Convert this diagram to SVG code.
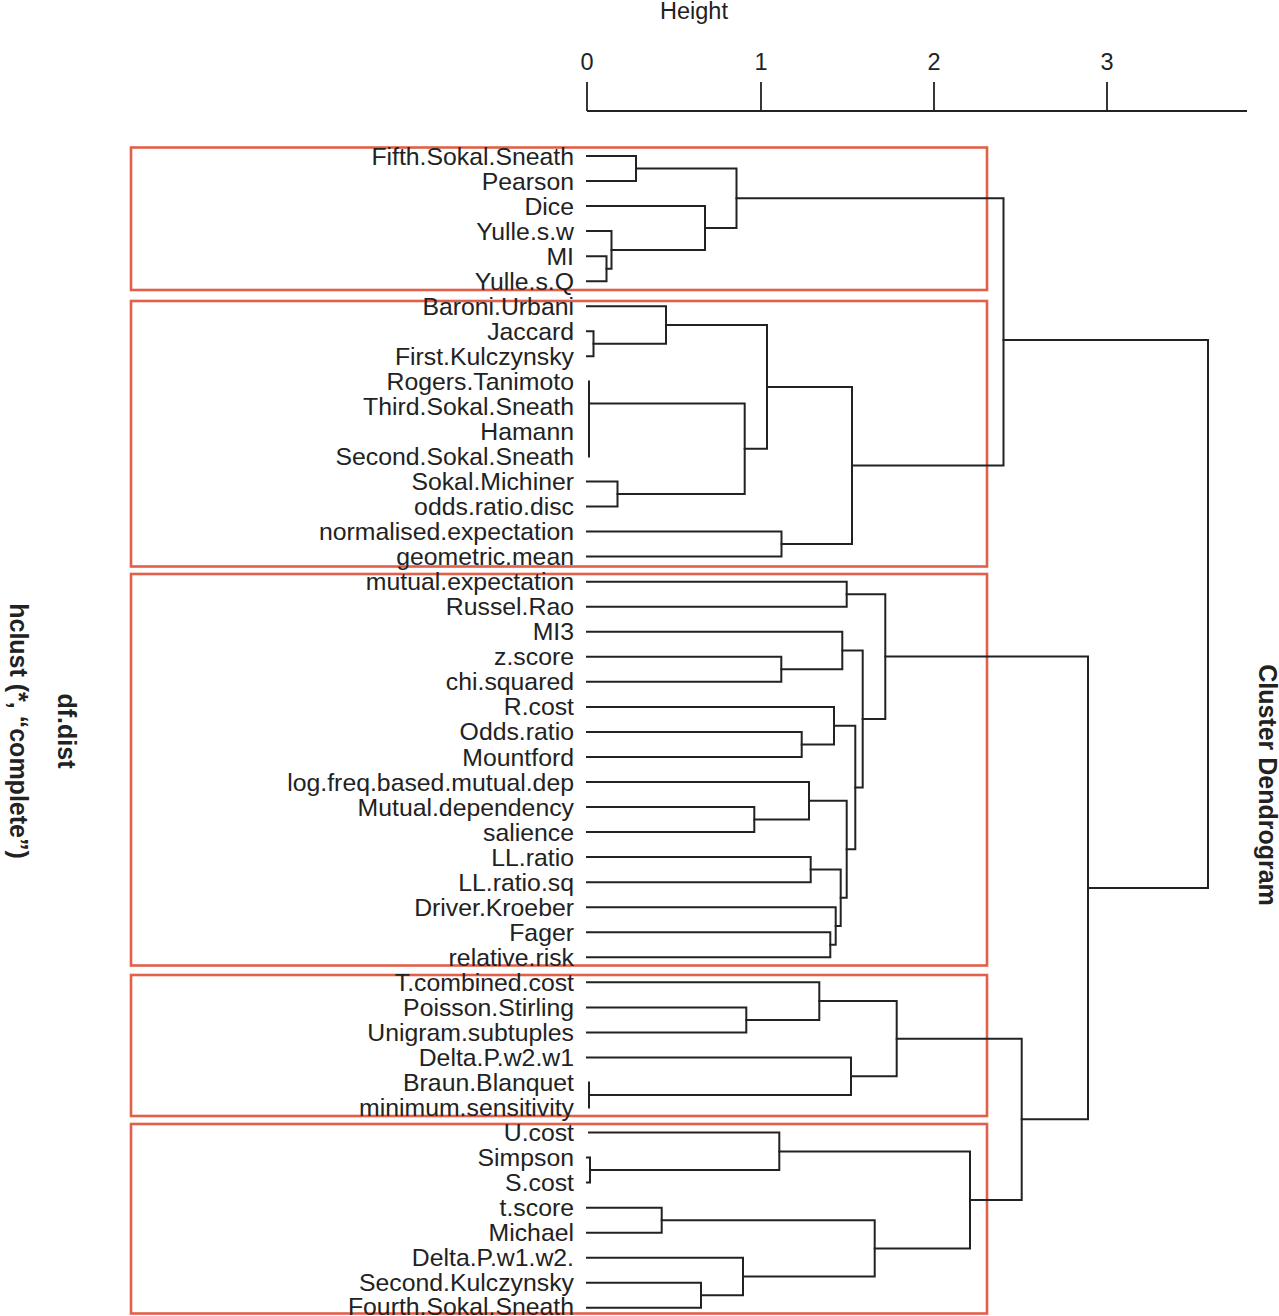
<svg xmlns="http://www.w3.org/2000/svg" width="1279" height="1316" viewBox="0 0 1279 1316">
<style>
.box{fill:none;stroke:#E2604A;stroke-width:2.6}
.ln{fill:none;stroke:#222;stroke-width:2;stroke-linecap:square}
.ax{fill:none;stroke:#222;stroke-width:1.8}
.lab{font-family:"Liberation Sans",Arial,sans-serif;font-size:24.8px;fill:#222;text-anchor:end}
.tick{font-family:"Liberation Sans",Arial,sans-serif;font-size:23.5px;fill:#222;text-anchor:middle}
.ttl{font-family:"Liberation Sans",Arial,sans-serif;font-size:25px;font-weight:bold;fill:#222;text-anchor:middle}
</style>
<rect width="1279" height="1316" fill="#fff"/>
<g id="boxes">
<rect id="box1" class="box" x="131" y="147.5" width="856" height="142.5"/>
<rect id="box2" class="box" x="131" y="301" width="856" height="265.5"/>
<rect id="box3" class="box" x="131" y="574" width="856" height="391.5"/>
<rect id="box4" class="box" x="131" y="975" width="856" height="141"/>
<rect id="box5" class="box" x="131" y="1124" width="856" height="189.5"/>
</g>
<g id="axis">
<path class="ax" d="M587 111 H1247 M587 82 V111 M761 82 V111 M934 82 V111 M1107 82 V111"/>
<text class="tick" x="587" y="69.5">0</text>
<text class="tick" x="761" y="69.5">1</text>
<text class="tick" x="934" y="69.5">2</text>
<text class="tick" x="1107" y="69.5">3</text>
<text class="tick" x="694" y="19">Height</text>
</g>
<g id="connectors" class="ln">
<path d="M587 156 H636 V181 H587"/>
<path d="M587 256.2 H606.5 V281.2 H587"/>
<path d="M587 231.1 H611.5 V268.7 H606.5"/>
<path d="M587 206.1 H705 V249.9 H611.5"/>
<path d="M636 168.5 H736.5 V228 H705"/>
<path d="M587 331.3 H593.5 V356.3 H587"/>
<path d="M587 306.2 H666 V343.8 H593.5"/>
<path d="M589 381.4 V456.5"/>
<path d="M587 481.5 H617.5 V506.6 H587"/>
<path d="M589 403.5 H744.7 V494 H617.5"/>
<path d="M666 325 H767 V448.8 H744.7"/>
<path d="M587 531.6 H781.5 V556.6 H587"/>
<path d="M767 386.9 H852 V544.1 H781.5"/>
<path d="M736.5 198.3 H1003.5 V465.5 H852"/>
<path d="M587 581.7 H846.7 V606.7 H587"/>
<path d="M587 656.8 H781.3 V681.8 H587"/>
<path d="M587 631.8 H842.3 V669.3 H781.3"/>
<path d="M587 731.9 H801.7 V757 H587"/>
<path d="M587 706.9 H834 V744.4 H801.7"/>
<path d="M587 807 H754.3 V832.1 H587"/>
<path d="M587 782 H809 V819.6 H754.3"/>
<path d="M587 857.1 H810.7 V882.2 H587"/>
<path d="M587 932.2 H830.3 V957.3 H587"/>
<path d="M587 907.2 H835.7 V944.8 H830.3"/>
<path d="M810.7 869.6 H840.7 V926 H835.7"/>
<path d="M809 800.8 H846.7 V897.8 H840.7"/>
<path d="M834 725.7 H855.3 V849.3 H846.7"/>
<path d="M842.3 650.5 H862.7 V787.5 H855.3"/>
<path d="M846.7 594.2 H885.3 V719 H862.7"/>
<path d="M587 1007.4 H746.3 V1032.4 H587"/>
<path d="M587 982.3 H819.3 V1019.9 H746.3"/>
<path d="M589 1082.5 V1107.5"/>
<path d="M587 1057.4 H851 V1095 H589"/>
<path d="M819.3 1001.1 H896.7 V1076.2 H851"/>
<path d="M587 1157.6 H590 V1182.6 H587"/>
<path d="M589 1132.6 H779.3 V1170.1 H590"/>
<path d="M587 1207.7 H661.7 V1232.7 H587"/>
<path d="M587 1282.8 H701 V1307.8 H587"/>
<path d="M587 1257.8 H743 V1295.3 H701"/>
<path d="M661.7 1220.2 H874.7 V1276.6 H743"/>
<path d="M779.3 1151.4 H970 V1248.4 H874.7"/>
<path d="M896.7 1038.7 H1021.7 V1199.9 H970"/>
<path d="M885.3 656.6 H1088 V1119.3 H1021.7"/>
<path d="M1003.5 340 H1208 V887.9 H1088"/>
</g>
<g id="labels">
<text class="lab" x="574" y="164.5">Fifth.Sokal.Sneath</text>
<text class="lab" x="574" y="189.5">Pearson</text>
<text class="lab" x="574" y="214.6">Dice</text>
<text class="lab" x="574" y="239.6">Yulle.s.w</text>
<text class="lab" x="574" y="264.7">MI</text>
<text class="lab" x="574" y="289.7">Yulle.s.Q</text>
<text class="lab" x="574" y="314.7">Baroni.Urbani</text>
<text class="lab" x="574" y="339.8">Jaccard</text>
<text class="lab" x="574" y="364.8">First.Kulczynsky</text>
<text class="lab" x="574" y="389.9">Rogers.Tanimoto</text>
<text class="lab" x="574" y="414.9">Third.Sokal.Sneath</text>
<text class="lab" x="574" y="439.9">Hamann</text>
<text class="lab" x="574" y="465">Second.Sokal.Sneath</text>
<text class="lab" x="574" y="490">Sokal.Michiner</text>
<text class="lab" x="574" y="515.1">odds.ratio.disc</text>
<text class="lab" x="574" y="540.1">normalised.expectation</text>
<text class="lab" x="574" y="565.1">geometric.mean</text>
<text class="lab" x="574" y="590.2">mutual.expectation</text>
<text class="lab" x="574" y="615.2">Russel.Rao</text>
<text class="lab" x="574" y="640.3">MI3</text>
<text class="lab" x="574" y="665.3">z.score</text>
<text class="lab" x="574" y="690.3">chi.squared</text>
<text class="lab" x="574" y="715.4">R.cost</text>
<text class="lab" x="574" y="740.4">Odds.ratio</text>
<text class="lab" x="574" y="765.5">Mountford</text>
<text class="lab" x="574" y="790.5">log.freq.based.mutual.dep</text>
<text class="lab" x="574" y="815.5">Mutual.dependency</text>
<text class="lab" x="574" y="840.6">salience</text>
<text class="lab" x="574" y="865.6">LL.ratio</text>
<text class="lab" x="574" y="890.7">LL.ratio.sq</text>
<text class="lab" x="574" y="915.7">Driver.Kroeber</text>
<text class="lab" x="574" y="940.7">Fager</text>
<text class="lab" x="574" y="965.8">relative.risk</text>
<text class="lab" x="574" y="990.8">T.combined.cost</text>
<text class="lab" x="574" y="1015.9">Poisson.Stirling</text>
<text class="lab" x="574" y="1040.9">Unigram.subtuples</text>
<text class="lab" x="574" y="1065.9">Delta.P.w2.w1</text>
<text class="lab" x="574" y="1091">Braun.Blanquet</text>
<text class="lab" x="574" y="1116">minimum.sensitivity</text>
<text class="lab" x="574" y="1141.1">U.cost</text>
<text class="lab" x="574" y="1166.1">Simpson</text>
<text class="lab" x="574" y="1191.1">S.cost</text>
<text class="lab" x="574" y="1216.2">t.score</text>
<text class="lab" x="574" y="1241.2">Michael</text>
<text class="lab" x="574" y="1266.3">Delta.P.w1.w2.</text>
<text class="lab" x="574" y="1291.3">Second.Kulczynsky</text>
<text class="lab" x="574" y="1315">Fourth.Sokal.Sneath</text>
</g>
<g id="titles">
<text class="ttl" transform="translate(1258.5 785) rotate(90)">Cluster Dendrogram</text>
<text class="ttl" transform="translate(57.5 731) rotate(90)">df.dist</text>
<text class="ttl" transform="translate(10 731) rotate(90)">hclust (*, “complete”)</text>
</g>
</svg>
